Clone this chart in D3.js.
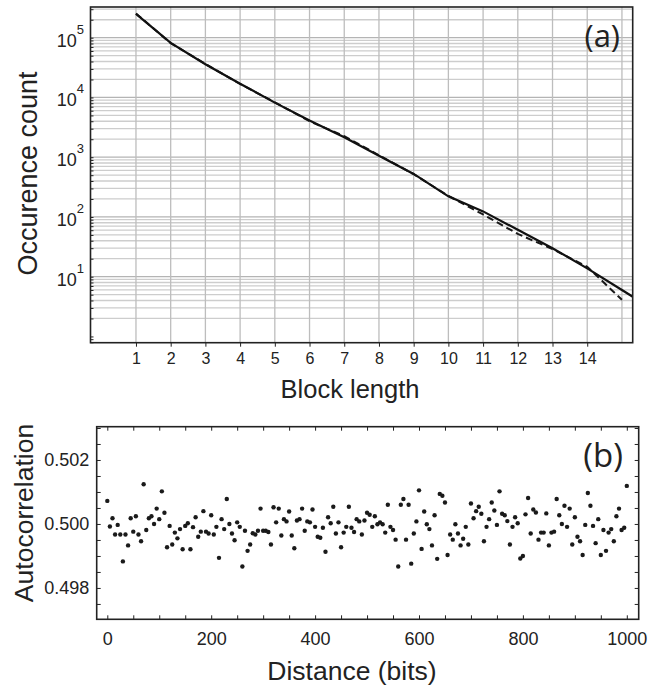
<!DOCTYPE html>
<html>
<head>
<meta charset="utf-8">
<script src="https://cdn.jsdelivr.net/npm/d3@7"></script>
<style>
  body { margin: 0; background: #fff; }
  svg text { font-family: "Liberation Sans", Arial, sans-serif; fill: #222; }
  .panel-tag { font-family: "Open Sans", "DejaVu Sans", sans-serif; }
</style>
</head>
<body>
<div id="chart"></div>
<script>
// ---- data, panel (a): block length histogram
const blockLength = [1, 2, 3, 4, 5, 6, 7, 8, 9, 10, 11, 12, 13, 14, 15, 16];
const countSolid = [250000, 82000, 36000, 17000, 8200, 4100, 2150, 1060, 525, 221, 124, 61, 30, 13.8, 6.0, 2.6];
const countDashed = [255000, 81000, 36500, 16800, 8300, 4000, 2250, 1080, 520, 225, 110, 52, 29, 14.7, 4.1];
const blockTicks = [1, 2, 3, 4, 5, 6, 7, 8, 9, 10, 11, 12, 13, 14];
const blockGrid = [1, 2, 3, 4, 5, 6, 7, 8, 9, 10, 11, 12, 13, 14, 15];
const decadeExponents = [1, 2, 3, 4, 5];

// ---- data, panel (b): autocorrelation vs distance (one point every 5 bits, 0..1000)
const distanceStep = 5;
const autocorrelation = [
  0.50072, 0.49992, 0.50018, 0.49967, 0.49997, 0.49967, 0.49883, 0.49967, 0.49933, 0.50018,
  0.49976, 0.50024, 0.49967, 0.49946, 0.50124, 0.49981, 0.50018, 0.50024, 0.50000, 0.50048,
  0.50015, 0.50102, 0.50035, 0.49927, 0.49994, 0.49936, 0.49973, 0.49955, 0.49984, 0.49921,
  0.49994, 0.50002, 0.49921, 0.49990, 0.50021, 0.49960, 0.49976, 0.50040, 0.49976, 0.49970,
  0.50027, 0.49967, 0.49991, 0.49894, 0.50015, 0.49984, 0.50078, 0.50000, 0.49970, 0.49949,
  0.50005, 0.49991, 0.49867, 0.49979, 0.49916, 0.49936, 0.49971, 0.49967, 0.49979, 0.50048,
  0.49979, 0.49979, 0.49975, 0.49936, 0.50052, 0.50005, 0.50048, 0.49964, 0.50015, 0.50008,
  0.50039, 0.49964, 0.49924, 0.50011, 0.50015, 0.50048, 0.49979, 0.50008, 0.50005, 0.50045,
  0.49991, 0.49960, 0.49957, 0.49988, 0.49913, 0.50021, 0.50002, 0.50054, 0.49970, 0.50005,
  0.49927, 0.49973, 0.49991, 0.50054, 0.49988, 0.49975, 0.50015, 0.50008, 0.49967, 0.50011,
  0.50035, 0.50029, 0.49991, 0.50024, 0.49999, 0.50005, 0.49999, 0.49973, 0.50060, 0.49991,
  0.49981, 0.49951, 0.49867, 0.50060, 0.50078, 0.49951, 0.50060, 0.49876, 0.49970, 0.50008,
  0.50105, 0.49922, 0.50039, 0.49999, 0.49984, 0.49933, 0.50027, 0.49891, 0.50094, 0.50088,
  0.50067, 0.49903, 0.49967, 0.49951, 0.49999, 0.49970, 0.49933, 0.49954, 0.49991, 0.49936,
  0.50064, 0.50018, 0.50040, 0.50054, 0.50032, 0.49946, 0.49991, 0.50015, 0.50067, 0.50042,
  0.49997, 0.50102, 0.50032, 0.50027, 0.50009, 0.49936, 0.49991, 0.50021, 0.50002, 0.49892,
  0.49900, 0.50030, 0.50081, 0.49970, 0.50045, 0.50036, 0.49951, 0.49973, 0.49973, 0.50033,
  0.49933, 0.49973, 0.49976, 0.50078, 0.50027, 0.50000, 0.50057, 0.49991, 0.50048, 0.49936,
  0.50021, 0.49960, 0.49946, 0.49903, 0.49997, 0.50097, 0.50057, 0.49994, 0.49940, 0.50015,
  0.49903, 0.49981, 0.49916, 0.49973, 0.49984, 0.49946, 0.50024, 0.50048, 0.49981, 0.49988,
  0.50119
];
const distanceTicks = [0, 200, 400, 600, 800, 1000];
const autoTicks = [0.498, 0.500, 0.502];

const svg = d3.select("#chart")
  .append("svg")
  .attr("width", 665)
  .attr("height", 687);

// ================= panel (a) =================
const a = { left: 90.5, right: 632.7, top: 7, bottom: 342.7 };

const xA = d3.scaleLinear().domain([-0.31, 15.31]).range([a.left, a.right]);
const yA = d3.scaleLog().domain([0.786, 326600]).range([a.bottom, a.top]);

const gA = svg.append("g");

// horizontal log grid
const logTicks = yA.ticks();
gA.selectAll(".hgrid")
  .data(logTicks.filter(v => v > 1))
  .enter().append("line")
  .attr("x1", a.left).attr("x2", a.right)
  .attr("y1", d => yA(d)).attr("y2", d => yA(d))
  .attr("stroke", d => decadeExponents.includes(Math.round(Math.log10(d))) && Math.abs(Math.log10(d) - Math.round(Math.log10(d))) < 1e-9 ? "#b4b4b4" : "#cdcdcd")
  .attr("stroke-width", 1.3);

// vertical grid
gA.selectAll(".vgrid")
  .data(blockGrid)
  .enter().append("line")
  .attr("x1", d => xA(d)).attr("x2", d => xA(d))
  .attr("y1", a.top).attr("y2", a.bottom)
  .attr("stroke", "#bdbdbd")
  .attr("stroke-width", 1.3);

// left minor ticks
gA.append("g")
  .attr("transform", `translate(${a.left},0)`)
  .call(d3.axisLeft(yA).tickValues(logTicks).tickSize(-3).tickFormat(""))
  .call(g => g.select(".domain").remove())
  .call(g => g.selectAll("line").attr("stroke", "#222"));

// bottom ticks and labels
gA.append("g")
  .attr("transform", `translate(0,${a.bottom})`)
  .call(d3.axisBottom(xA).tickValues(blockTicks).tickSize(4).tickPadding(6).tickFormat(d3.format("d")))
  .call(g => g.select(".domain").remove())
  .call(g => g.selectAll("line").attr("stroke", "#222"))
  .call(g => g.selectAll("text").attr("font-size", 16).attr("fill", "#222"));

// y labels 10^n
const yLab = gA.selectAll(".ylab")
  .data(decadeExponents)
  .enter().append("text")
  .attr("x", 84)
  .attr("y", d => yA(Math.pow(10, d)) + 9)
  .attr("text-anchor", "end")
  .attr("font-size", 18);
yLab.append("tspan").text("10");
yLab.append("tspan").attr("font-size", 13).attr("dy", -13).text(d => d);

// lines
svg.append("clipPath").attr("id", "clipA")
  .append("rect")
  .attr("x", a.left).attr("y", a.top)
  .attr("width", a.right - a.left).attr("height", a.bottom - a.top);

const lineA = d3.line()
  .x((d, i) => xA(blockLength[i]))
  .y(d => yA(d));

gA.append("path")
  .datum(countDashed)
  .attr("clip-path", "url(#clipA)")
  .attr("fill", "none")
  .attr("stroke", "#1a1a1a")
  .attr("stroke-width", 2)
  .attr("stroke-dasharray", "7,4")
  .attr("d", lineA);

gA.append("path")
  .datum(countSolid)
  .attr("clip-path", "url(#clipA)")
  .attr("fill", "none")
  .attr("stroke", "#111")
  .attr("stroke-width", 2.2)
  .attr("d", lineA);

// frame
gA.append("rect")
  .attr("x", a.left).attr("y", a.top)
  .attr("width", a.right - a.left).attr("height", a.bottom - a.top)
  .attr("fill", "none")
  .attr("stroke", "#222")
  .attr("stroke-width", 1.6);

gA.append("text")
  .attr("class", "panel-tag")
  .attr("x", 620).attr("y", 47)
  .attr("text-anchor", "end")
  .attr("font-size", 31)
  .text("(a)");

svg.append("text")
  .attr("transform", "translate(36.5,173.5) rotate(-90)")
  .attr("text-anchor", "middle")
  .attr("font-size", 27)
  .text("Occurence count");

svg.append("text")
  .attr("x", 350).attr("y", 398)
  .attr("text-anchor", "middle")
  .attr("font-size", 25.5)
  .text("Block length");

// ================= panel (b) =================
const b = { left: 96.7, right: 638.7, top: 426.7, bottom: 619.3 };

const xB = d3.scaleLinear().domain([-20.4, 1022.9]).range([b.left, b.right]);
const yB = d3.scaleLinear().domain([0.49702, 0.50304]).range([b.bottom, b.top]);

const gB = svg.append("g");

const xMinor = d3.range(0, 1001, 50);
const yMinor = d3.range(0.4975, 0.5030, 0.0005);

gB.append("g")
  .attr("transform", `translate(0,${b.bottom})`)
  .call(d3.axisBottom(xB).tickValues(xMinor).tickSize(-4).tickPadding(13)
    .tickFormat(d => distanceTicks.includes(d) ? d : ""))
  .call(g => g.select(".domain").remove())
  .call(g => g.selectAll("line").attr("stroke", "#222"))
  .call(g => g.selectAll("text").attr("font-size", 18).attr("fill", "#222"));

gB.append("g")
  .attr("transform", `translate(0,${b.top})`)
  .call(d3.axisTop(xB).tickValues(xMinor).tickSize(-4).tickFormat(""))
  .call(g => g.select(".domain").remove())
  .call(g => g.selectAll("line").attr("stroke", "#222"));

gB.append("g")
  .attr("transform", `translate(${b.left},0)`)
  .call(d3.axisLeft(yB).tickValues(yMinor).tickSize(-4).tickPadding(7.5)
    .tickFormat(d => autoTicks.some(t => Math.abs(t - d) < 1e-7) ? d3.format(".3f")(d) : ""))
  .call(g => g.select(".domain").remove())
  .call(g => g.selectAll("line").attr("stroke", "#222"))
  .call(g => g.selectAll("text").attr("font-size", 18).attr("fill", "#222"));

gB.append("g")
  .attr("transform", `translate(${b.right},0)`)
  .call(d3.axisRight(yB).tickValues(yMinor).tickSize(-4).tickFormat(""))
  .call(g => g.select(".domain").remove())
  .call(g => g.selectAll("line").attr("stroke", "#222"));

gB.selectAll(".dot")
  .data(autocorrelation)
  .enter().append("circle")
  .attr("cx", (d, i) => xB(i * distanceStep))
  .attr("cy", d => yB(d))
  .attr("r", 2.2)
  .attr("fill", "#1a1a1a");

gB.append("rect")
  .attr("x", b.left).attr("y", b.top)
  .attr("width", b.right - b.left).attr("height", b.bottom - b.top)
  .attr("fill", "none")
  .attr("stroke", "#222")
  .attr("stroke-width", 1.6);

gB.append("text")
  .attr("class", "panel-tag")
  .attr("x", 623).attr("y", 467)
  .attr("text-anchor", "end")
  .attr("font-size", 33)
  .text("(b)");

svg.append("text")
  .attr("transform", "translate(33.3,513) rotate(-90)")
  .attr("text-anchor", "middle")
  .attr("font-size", 26.5)
  .text("Autocorrelation");

svg.append("text")
  .attr("x", 352).attr("y", 680)
  .attr("text-anchor", "middle")
  .attr("font-size", 26.5)
  .text("Distance (bits)");
</script>
</body>
</html>
